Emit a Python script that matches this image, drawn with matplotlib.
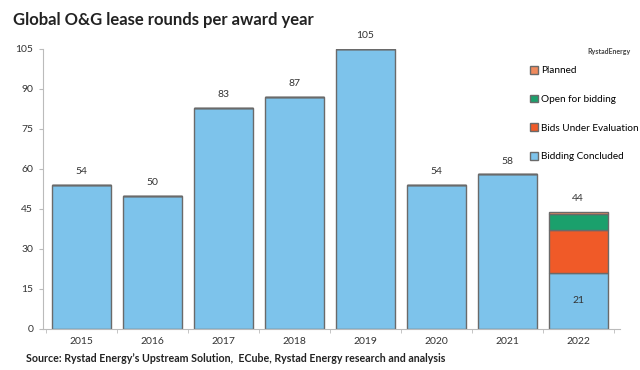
import matplotlib
matplotlib.use("Agg")
import matplotlib.pyplot as plt
import numpy as np
from matplotlib.patches import Patch

years = ["2015", "2016", "2017", "2018", "2019", "2020", "2021", "2022"]
concluded = [54, 50, 83, 87, 105, 54, 58, 21]
under_eval = [0, 0, 0, 0, 0, 0, 0, 16]
open_bid = [0, 0, 0, 0, 0, 0, 0, 6]
planned = [0, 0, 0, 0, 0, 0, 0, 1]
yticks = [0, 15, 30, 45, 60, 75, 90, 105]

plt.rcParams["font.family"] = ["Lato", "DejaVu Sans"]

c_conc = "#7DC3EB"
c_eval = "#F05A28"
c_open = "#1BA06C"
c_plan = "#F08A5D"
edge = "#6a6a6a"

fig = plt.figure(figsize=(6.4, 3.7), dpi=100)
ax = fig.add_axes([0.067, 0.111, 0.902, 0.757])
x = np.arange(len(years))
w = 0.83
kw = dict(width=w, edgecolor=edge, linewidth=1.0)
ax.bar(x, concluded, color=c_conc, **kw)
b1 = np.array(concluded)
ax.bar(x, under_eval, bottom=b1, color=c_eval, **kw)
b2 = b1 + np.array(under_eval)
ax.bar(x, open_bid, bottom=b2, color=c_open, **kw)
b3 = b2 + np.array(open_bid)
ax.bar(x, planned, bottom=b3, color=c_plan, **kw)
totals = b3 + np.array(planned)

for i in range(len(years)):
    ax.text(x[i], totals[i] + 3.2, str(int(totals[i])), ha="center", va="bottom",
            fontsize=7.5, color="#333333")
ax.text(x[-1], concluded[-1] / 2, str(concluded[-1]), ha="center", va="center",
        fontsize=7.5, color="#333333")

ax.set_xlim(-0.54, len(years) - 1 + 0.59)
ax.set_ylim(0, 105)
ax.set_yticks(yticks)
ax.set_yticklabels([str(t) for t in yticks], fontsize=7.5, color="#333333")
ax.set_xticks(x)
ax.set_xticklabels(years, fontsize=7.5, color="#333333")
ax.set_xticks(np.arange(-0.5, len(years)), minor=True)
ax.tick_params(axis="x", which="major", length=0, pad=6)
ax.tick_params(axis="x", which="minor", length=3, color="#bbbbbb")
ax.tick_params(axis="y", length=3, color="#bbbbbb", pad=4)
for s in ["top", "right"]:
    ax.spines[s].set_visible(False)
for s in ["left", "bottom"]:
    ax.spines[s].set_color("#bbbbbb")

handles = [Patch(facecolor=c_plan, edgecolor=edge, label="Planned"),
           Patch(facecolor=c_open, edgecolor=edge, label="Open for bidding"),
           Patch(facecolor=c_eval, edgecolor=edge, label="Bids Under Evaluation"),
           Patch(facecolor=c_conc, edgecolor=edge, label="Bidding Concluded")]
fig.legend(handles=handles, loc="upper left", bbox_to_anchor=(0.822, 0.832),
           frameon=False, fontsize=7.2, handlelength=0.8, handleheight=0.8,
           handletextpad=0.3, labelspacing=1.93, borderaxespad=0)

fig.text(0.02, 0.945, "Global O&G lease rounds per award year", fontsize=12,
         fontweight="bold", color="#222222", va="center")
fig.text(0.04, 0.03, "Source: Rystad Energy\u2019s Upstream Solution,  ECube, Rystad Energy research and analysis",
         fontsize=7.7, fontweight="bold", color="#222222", va="center")
fig.text(0.985, 0.86, "RystadEnergy", fontsize=5, fontweight="bold",
         color="#444444", ha="right", va="center")

fig.savefig("out.png", dpi=100)
